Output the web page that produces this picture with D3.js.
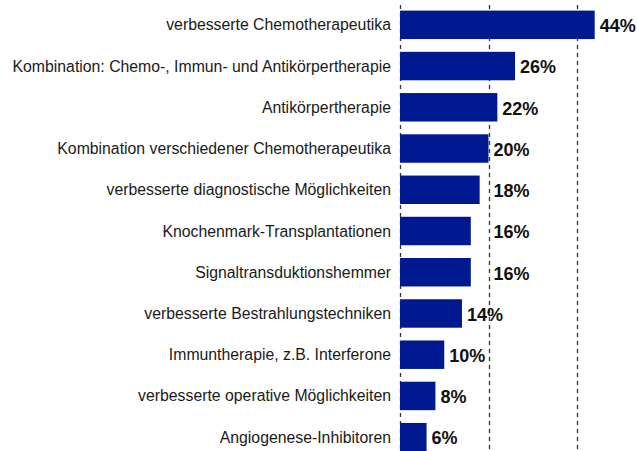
<!DOCTYPE html>
<html>
<head>
<meta charset="utf-8">
<script src="https://cdn.jsdelivr.net/npm/d3@7"></script>
<style>
  body { margin: 0; background: #fff; }
  svg { display: block; }
</style>
</head>
<body>
<svg id="chart"></svg>
<script>
var width = 637;
var height = 451;
var margin = {top: 4, right: 20, bottom: 0, left: 400};

var categories = [
  "verbesserte Chemotherapeutika",
  "Kombination: Chemo-, Immun- und Antikörpertherapie",
  "Antikörpertherapie",
  "Kombination verschiedener Chemotherapeutika",
  "verbesserte diagnostische Möglichkeiten",
  "Knochenmark-Transplantationen",
  "Signaltransduktionshemmer",
  "verbesserte Bestrahlungstechniken",
  "Immuntherapie, z.B. Interferone",
  "verbesserte operative Möglichkeiten",
  "Angiogenese-Inhibitoren"
];
var values = [44, 26, 22, 20, 18, 16, 16, 14, 10, 8, 6];
var gridTicks = [0, 20, 40];

var svg = d3.select("#chart")
    .attr("width", width)
    .attr("height", height);

var x = d3.scaleLinear()
    .domain([0, 40])
    .range([margin.left, 577]);

var y = d3.scaleBand()
    .domain(categories)
    .range([margin.top, height + 7])
    .paddingInner(0.31)
    .paddingOuter(0.16);

// dashed gridlines
svg.selectAll(".grid")
    .data(gridTicks)
    .enter().append("line")
    .attr("x1", function(d) { return Math.round(x(d)) + 0.5; })
    .attr("x2", function(d) { return Math.round(x(d)) + 0.5; })
    .attr("y1", 5)
    .attr("y2", height)
    .style("stroke", "#333")
    .style("stroke-width", 1.3)
    .style("stroke-dasharray", "4,4");

svg.selectAll(".bar")
    .data(values)
    .enter().append("rect")
    .attr("x", x(0))
    .attr("y", function(d, i) { return y(categories[i]); })
    .attr("width", function(d) { return x(d) - x(0); })
    .attr("height", y.bandwidth())
    .style("fill", "#001890");

svg.selectAll(".cat")
    .data(categories)
    .enter().append("text")
    .attr("x", 391)
    .attr("y", function(d) { return y(d) + y.bandwidth() / 2; })
    .attr("dy", "0.35em")
    .style("text-anchor", "end")
    .style("font-family", "Arial, 'Liberation Sans', sans-serif")
    .style("font-size", "15.8px")
    .style("fill", "#1a1a1a")
    .text(function(d) { return d; });

// labels that would sit just left of the 20% line get pushed past it
function labelX(d) {
    var lx = x(d) + 5;
    var g = x(20);
    if (g - lx > 0 && g - lx < 15) lx = g + 5;
    return lx;
}

svg.selectAll(".val")
    .data(values)
    .enter().append("text")
    .attr("x", labelX)
    .attr("y", function(d, i) { return y(categories[i]) + y.bandwidth() / 2 + 1; })
    .attr("dy", "0.35em")
    .style("font-family", "Arial, 'Liberation Sans', sans-serif")
    .style("font-size", "18px")
    .style("font-weight", "bold")
    .style("fill", "#111")
    .text(function(d) { return d + "%"; });
</script>
</body>
</html>
